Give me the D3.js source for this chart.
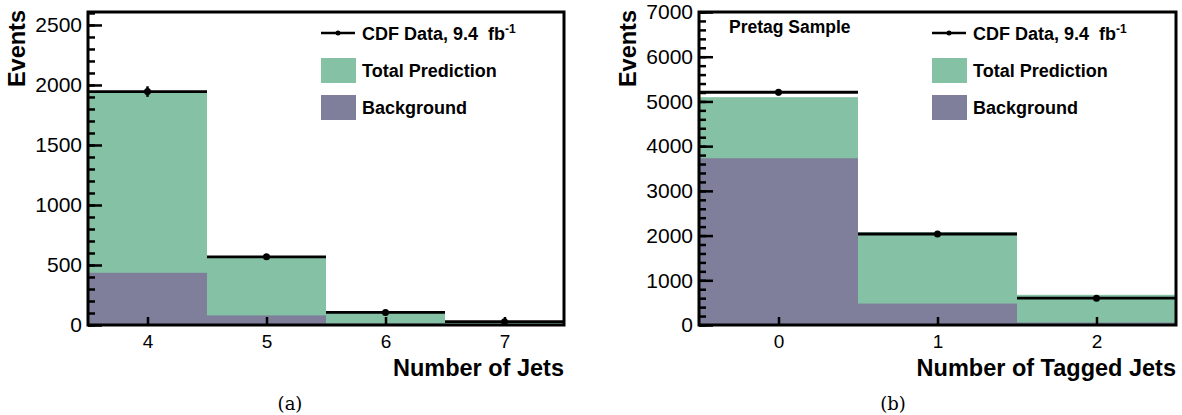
<!DOCTYPE html>
<html>
<head>
<meta charset="utf-8">
<script src="https://cdn.jsdelivr.net/npm/d3@7"></script>
<style>
  body { margin: 0; background: #fff; }
  text { font-family: "Liberation Sans", Arial, sans-serif; }
  text.caption { font-family: "DejaVu Serif", "Liberation Serif", serif; }
</style>
</head>
<body>
<script>
var W = 1182, H = 415;

// panel (a): number of jets
var jetBins = [4, 5, 6, 7];
var jetTotal = [1940, 565, 100, 25];
var jetBackground = [435, 80, 12, 3];
var jetData = [1945, 568, 105, 28];
var jetErr = [44, 24, 10, 5];
var jetYTicks = [0, 500, 1000, 1500, 2000, 2500];

// panel (b): number of tagged jets
var tagBins = [0, 1, 2];
var tagTotal = [5095, 2075, 675];
var tagBackground = [3730, 480, 55];
var tagData = [5205, 2035, 600];
var tagErr = [72, 45, 24];
var tagYTicks = [0, 1000, 2000, 3000, 4000, 5000, 6000, 7000];

var green = "#85c2a5", grey = "#7f7f9b";

var svg = d3.select("body").append("svg")
  .attr("width", W).attr("height", H);

function drawPanel(p) {
  var x = d3.scaleLinear()
    .domain([p.bins[0] - 0.5, p.bins[p.bins.length - 1] + 0.5])
    .range([p.left, p.right]);
  var y = d3.scaleLinear().domain([0, p.ymax]).range([p.bottom, p.top]);
  var hw = x(1) - x(0.5);

  var g = svg.append("g");

  g.selectAll(".tot").data(p.bins).enter().append("rect")
    .attr("x", function(d) { return x(d - 0.5); })
    .attr("width", 2 * hw)
    .attr("y", function(d, i) { return y(p.total[i]); })
    .attr("height", function(d, i) { return y(0) - y(p.total[i]); })
    .attr("fill", green);

  g.selectAll(".bkg").data(p.bins).enter().append("rect")
    .attr("x", function(d) { return x(d - 0.5); })
    .attr("width", 2 * hw)
    .attr("y", function(d, i) { return y(p.background[i]); })
    .attr("height", function(d, i) { return y(0) - y(p.background[i]); })
    .attr("fill", grey);

  // data: horizontal bin line, error bar, marker
  g.selectAll(".dl").data(p.bins).enter().append("line")
    .attr("x1", function(d) { return x(d - 0.5); })
    .attr("x2", function(d) { return x(d + 0.5); })
    .attr("y1", function(d, i) { return y(p.data[i]); })
    .attr("y2", function(d, i) { return y(p.data[i]); })
    .attr("stroke", "#000").attr("stroke-width", 2.8);
  g.selectAll(".de").data(p.bins).enter().append("line")
    .attr("x1", function(d) { return x(d); })
    .attr("x2", function(d) { return x(d); })
    .attr("y1", function(d, i) { return y(p.data[i] - p.err[i]); })
    .attr("y2", function(d, i) { return y(p.data[i] + p.err[i]); })
    .attr("stroke", "#000").attr("stroke-width", 2.5);
  g.selectAll(".dm").data(p.bins).enter().append("circle")
    .attr("cx", function(d) { return x(d); })
    .attr("cy", function(d, i) { return y(p.data[i]); })
    .attr("r", 3.5).attr("fill", "#000");

  // minor y ticks
  var minor = d3.range(0, p.ymax + 1, p.minorStep);
  g.append("g").attr("transform", "translate(" + p.left + ",0)")
    .call(d3.axisLeft(y).tickValues(minor).tickSize(-7).tickFormat(""))
    .call(function(a) {
      a.select(".domain").remove();
      a.selectAll("line").attr("stroke-width", 2.5);
    });
  // major y ticks
  g.append("g").attr("transform", "translate(" + p.left + ",0)")
    .call(d3.axisLeft(y).tickValues(p.yticks).tickSize(-14).tickPadding(6)
      .tickFormat(d3.format("d")))
    .call(function(a) {
      a.select(".domain").remove();
      a.selectAll("line").attr("stroke-width", 2.5);
      a.selectAll("text").attr("font-size", 21).attr("fill", "#000");
    });
  // x ticks
  g.append("g").attr("transform", "translate(0," + p.bottom + ")")
    .call(d3.axisBottom(x).tickValues(p.bins).tickSize(-8).tickPadding(10)
      .tickFormat(d3.format("d")))
    .call(function(a) {
      a.select(".domain").remove();
      a.selectAll("line").attr("stroke-width", 2.5);
      a.selectAll("text").attr("font-size", 19).attr("fill", "#000");
    });

  // frame
  g.append("rect")
    .attr("x", p.left).attr("y", p.top)
    .attr("width", p.right - p.left).attr("height", p.bottom - p.top)
    .attr("fill", "none").attr("stroke", "#000").attr("stroke-width", 3);

  // axis titles
  g.append("text")
    .attr("transform", "translate(" + (p.left - 63) + "," + (p.top - 2) + ") rotate(-90)")
    .attr("text-anchor", "end")
    .attr("font-size", 23.5).attr("font-weight", "bold")
    .text("Events");
  g.append("text")
    .attr("x", p.right).attr("y", 376)
    .attr("text-anchor", "end")
    .attr("font-size", 23.5).attr("font-weight", "bold")
    .text(p.xtitle);

  // legend
  var lx = p.legendX;
  g.append("line").attr("x1", lx).attr("x2", lx + 34)
    .attr("y1", 33).attr("y2", 33).attr("stroke", "#000").attr("stroke-width", 2.5);
  g.append("circle").attr("cx", lx + 17).attr("cy", 33).attr("r", 2.5).attr("fill", "#000");
  var t = g.append("text").attr("x", lx + 41).attr("y", 40)
    .attr("font-size", 18).attr("font-weight", "bold");
  t.append("tspan").text("CDF Data, 9.4\u00a0\u00a0fb");
  t.append("tspan").attr("font-size", 12).attr("dy", -7).text("-1");

  [["Total Prediction", green, 58], ["Background", grey, 95]].forEach(function(e) {
    g.append("rect").attr("x", lx).attr("y", e[2]).attr("width", 35).attr("height", 25)
      .attr("fill", e[1]);
    g.append("text").attr("x", lx + 41).attr("y", e[2] + 19)
      .attr("font-size", 18).attr("font-weight", "bold").text(e[0]);
  });

  if (p.note) {
    g.append("text").attr("x", p.left + 30).attr("y", 33)
      .attr("font-size", 17.5).attr("font-weight", "bold").text(p.note);
  }

  g.append("text")
    .attr("class", "caption")
    .attr("x", p.captionX).attr("y", 410)
    .attr("text-anchor", "middle")
    .attr("font-size", 18)
    .text(p.caption);
}

drawPanel({
  bins: jetBins, total: jetTotal, background: jetBackground,
  data: jetData, err: jetErr, yticks: jetYTicks,
  ymax: 2608, minorStep: 100,
  left: 88, right: 564, top: 12, bottom: 325,
  legendX: 321, xtitle: "Number of Jets", caption: "(a)", captionX: 290
});

drawPanel({
  bins: tagBins, total: tagTotal, background: tagBackground,
  data: tagData, err: tagErr, yticks: tagYTicks,
  ymax: 7000, minorStep: 200,
  left: 699, right: 1176, top: 12, bottom: 325,
  legendX: 932, xtitle: "Number of Tagged Jets", caption: "(b)", captionX: 893,
  note: "Pretag Sample"
});
</script>
</body>
</html>
